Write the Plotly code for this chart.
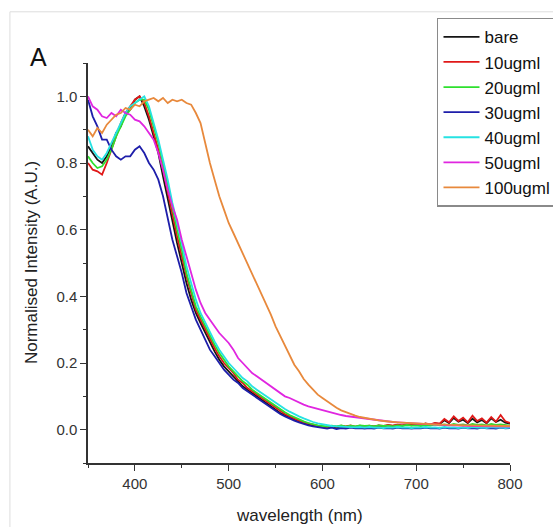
import plotly.graph_objects as go

wavelength = list(range(350, 801, 5))

bare = [0.85, 0.83, 0.81, 0.80, 0.82, 0.85, 0.89, 0.91, 0.95, 0.96,
        0.99, 1.00, 0.97, 0.93, 0.88, 0.83, 0.76, 0.69, 0.63, 0.56,
        0.50, 0.44, 0.39, 0.35, 0.32, 0.29, 0.26, 0.235, 0.21, 0.19,
        0.175, 0.16, 0.145, 0.13, 0.12, 0.11, 0.10, 0.09, 0.08, 0.07,
        0.06, 0.05, 0.043, 0.036, 0.03, 0.025, 0.02, 0.016, 0.013, 0.010,
        0.009, 0.007, 0.010, 0.006, 0.009, 0.008, 0.011, 0.007, 0.010, 0.008,
        0.011, 0.009, 0.012, 0.010, 0.013, 0.011, 0.014, 0.012, 0.015, 0.013,
        0.016, 0.014, 0.018, 0.015, 0.019, 0.017, 0.028, 0.020, 0.035, 0.024,
        0.030, 0.020, 0.033, 0.022, 0.029, 0.019, 0.034, 0.023, 0.030, 0.021,
        0.018]

ug10 = [0.80, 0.78, 0.775, 0.765, 0.80, 0.84, 0.88, 0.92, 0.95, 0.97,
        0.99, 1.00, 0.98, 0.94, 0.89, 0.84, 0.78, 0.71, 0.645, 0.58,
        0.52, 0.46, 0.41, 0.36, 0.33, 0.30, 0.27, 0.245, 0.22, 0.20,
        0.185, 0.17, 0.15, 0.14, 0.125, 0.115, 0.105, 0.095, 0.085, 0.075,
        0.065, 0.055, 0.047, 0.04, 0.033, 0.027, 0.022, 0.018, 0.015, 0.012,
        0.010, 0.008, 0.011, 0.009, 0.012, 0.010, 0.013, 0.009, 0.012, 0.010,
        0.012, 0.010, 0.013, 0.011, 0.014, 0.012, 0.015, 0.013, 0.016, 0.014,
        0.017, 0.015, 0.019, 0.016, 0.020, 0.018, 0.032, 0.022, 0.040, 0.026,
        0.036, 0.022, 0.042, 0.026, 0.034, 0.021, 0.038, 0.024, 0.044, 0.025,
        0.020]

ug20 = [0.82, 0.80, 0.785, 0.79, 0.81, 0.84, 0.88, 0.91, 0.94, 0.96,
        0.98, 0.99, 0.99, 0.96, 0.91, 0.86, 0.80, 0.73, 0.665, 0.60,
        0.54, 0.47, 0.42, 0.37, 0.34, 0.31, 0.28, 0.255, 0.23, 0.21,
        0.19, 0.175, 0.16, 0.145, 0.135, 0.12, 0.11, 0.10, 0.09, 0.08,
        0.07, 0.06, 0.052, 0.044, 0.037, 0.03, 0.025, 0.02, 0.016, 0.013,
        0.011, 0.009, 0.012, 0.010, 0.013, 0.009, 0.012, 0.010, 0.013, 0.011,
        0.012, 0.010, 0.013, 0.011, 0.012, 0.010, 0.013, 0.011, 0.014, 0.012,
        0.013, 0.011, 0.014, 0.012, 0.015, 0.013, 0.016, 0.013, 0.017, 0.014,
        0.016, 0.013, 0.017, 0.014, 0.016, 0.013, 0.017, 0.014, 0.016, 0.013,
        0.012]

ug30 = [0.99, 0.94, 0.91, 0.87, 0.87, 0.84, 0.82, 0.81, 0.82, 0.82,
        0.84, 0.85, 0.83, 0.80, 0.78, 0.75, 0.70, 0.63, 0.57, 0.52,
        0.47, 0.41, 0.37, 0.33, 0.30, 0.27, 0.24, 0.22, 0.20, 0.18,
        0.165, 0.15, 0.14, 0.125, 0.115, 0.105, 0.095, 0.085, 0.075, 0.065,
        0.055, 0.047, 0.04, 0.033, 0.027, 0.022, 0.017, 0.013, 0.01, 0.007,
        0.005, 0.003, 0.006, 0.002, 0.005, 0.003, 0.006, 0.004, 0.005, 0.003,
        0.005, 0.003, 0.006, 0.004, 0.005, 0.003, 0.006, 0.004, 0.005, 0.003,
        0.005, 0.004, 0.006, 0.004, 0.005, 0.003, 0.006, 0.004, 0.005, 0.003,
        0.006, 0.004, 0.005, 0.003, 0.006, 0.004, 0.005, 0.003, 0.006, 0.004,
        0.005]

ug40 = [0.88, 0.84, 0.82, 0.81, 0.83, 0.86, 0.89, 0.92, 0.95, 0.97,
        0.98, 0.99, 1.00, 0.97, 0.92, 0.87, 0.81, 0.75, 0.68, 0.62,
        0.56, 0.49, 0.44, 0.39, 0.35, 0.32, 0.29, 0.265, 0.24, 0.22,
        0.20, 0.185, 0.17, 0.155, 0.145, 0.13, 0.12, 0.11, 0.10, 0.09,
        0.08, 0.07, 0.062, 0.054, 0.046, 0.04, 0.034, 0.028, 0.023, 0.019,
        0.016, 0.013, 0.011, 0.010, 0.009, 0.008, 0.009, 0.007, 0.008, 0.006,
        0.008, 0.006, 0.007, 0.005, 0.007, 0.006, 0.008, 0.006, 0.007, 0.005,
        0.007, 0.006, 0.008, 0.006, 0.007, 0.005, 0.008, 0.006, 0.007, 0.005,
        0.007, 0.005, 0.008, 0.006, 0.007, 0.005, 0.008, 0.006, 0.007, 0.005,
        0.006]

ug50 = [1.00, 0.97, 0.96, 0.94, 0.935, 0.95, 0.94, 0.96, 0.95, 0.945,
        0.93, 0.925, 0.91, 0.89, 0.87, 0.83, 0.78, 0.72, 0.67, 0.63,
        0.57, 0.52, 0.47, 0.42, 0.38, 0.35, 0.33, 0.31, 0.29, 0.275,
        0.26, 0.24, 0.215, 0.20, 0.185, 0.17, 0.16, 0.15, 0.14, 0.13,
        0.12, 0.11, 0.10, 0.095, 0.088, 0.08, 0.075, 0.07, 0.066, 0.062,
        0.058, 0.054, 0.05, 0.047, 0.044, 0.041, 0.039, 0.037, 0.035, 0.033,
        0.031, 0.029, 0.027, 0.026, 0.024, 0.023, 0.022, 0.021, 0.020, 0.019,
        0.018, 0.017, 0.016, 0.016, 0.015, 0.014, 0.014, 0.013, 0.013, 0.012,
        0.012, 0.011, 0.011, 0.011, 0.010, 0.010, 0.010, 0.010, 0.009, 0.009,
        0.009]

ug100 = [0.90, 0.88, 0.905, 0.89, 0.915, 0.93, 0.945, 0.95, 0.965, 0.96,
         0.975, 0.97, 0.985, 0.99, 0.995, 0.985, 0.995, 0.98, 0.99, 0.985,
         0.99, 0.98, 0.975, 0.95, 0.92, 0.86, 0.80, 0.75, 0.70, 0.66,
         0.62, 0.59, 0.56, 0.53, 0.50, 0.47, 0.44, 0.41, 0.375, 0.345,
         0.31, 0.28, 0.25, 0.22, 0.195, 0.175, 0.152, 0.135, 0.12, 0.105,
         0.095, 0.085, 0.075, 0.066, 0.058, 0.052, 0.047, 0.042, 0.038, 0.035,
         0.032, 0.030, 0.028, 0.026, 0.024, 0.023, 0.022, 0.021, 0.020, 0.019,
         0.018, 0.017, 0.017, 0.016, 0.016, 0.015, 0.015, 0.014, 0.014, 0.014,
         0.013, 0.013, 0.013, 0.012, 0.012, 0.012, 0.012, 0.011, 0.011, 0.011,
         0.011]

names = ["bare", "10ugml", "20ugml", "30ugml", "40ugml", "50ugml", "100ugml"]
series = [bare, ug10, ug20, ug30, ug40, ug50, ug100]
colors = ["#151515", "#e01818", "#2ee02e", "#1e1eaa", "#26e2e2", "#e026e0", "#e8893c"]

fig = go.Figure()
for n, s, c in zip(names, series, colors):
    fig.add_trace(go.Scatter(x=wavelength, y=s, mode="lines", name=n,
                             line=dict(color=c, width=1.8)))

axis_common = dict(
    showline=True, linecolor="#333333", linewidth=1.5, mirror=False,
    ticks="outside", ticklen=6, tickwidth=1.3, tickcolor="#333333",
    showgrid=False, zeroline=False,
    tickfont=dict(family="Liberation Sans, Arial", size=15, color="#333333"),
)

fig.update_layout(
    width=553, height=527,
    margin=dict(l=88, r=43, t=63, b=64, autoexpand=False),
    paper_bgcolor="white", plot_bgcolor="white",
    xaxis=dict(range=[350, 800], dtick=100, tick0=400,
               minor=dict(ticks="outside", ticklen=3, dtick=50, tick0=350, tickcolor="#333333"),
               **axis_common),
    yaxis=dict(range=[-0.1, 1.1], dtick=0.2, tick0=0, tickformat=".1f",
               minor=dict(ticks="outside", ticklen=3, dtick=0.1, tick0=-0.1, tickcolor="#333333"),
               **axis_common),
    legend=dict(x=0.827, y=1.113, xanchor="left", yanchor="top",
                bgcolor="white", bordercolor="#8a8a8a", borderwidth=1.5,
                font=dict(family="Liberation Sans, Arial", size=17, color="#111111"),
                tracegroupgap=0, itemwidth=36),
    showlegend=True,
    shapes=[dict(type="rect", xref="paper", yref="paper",
                 x0=-0.185, x1=1.2, y0=-0.3, y1=1.128,
                 line=dict(color="#dddddd", width=1), layer="below")],
    annotations=[
        dict(text="A", xref="paper", yref="paper", x=-0.142, y=1.056,
             showarrow=False, font=dict(family="Liberation Sans, Arial", size=25, color="#111111")),
        dict(text="wavelength (nm)", xref="paper", yref="paper", x=0.5, y=-0.13,
             xanchor="center", yanchor="middle", showarrow=False,
             font=dict(family="Liberation Sans, Arial", size=17, color="#222222")),
        dict(text="Normalised Intensity (A.U.)", xref="paper", yref="paper", x=-0.135, y=0.5,
             xanchor="center", yanchor="middle", textangle=-90, showarrow=False,
             font=dict(family="Liberation Sans, Arial", size=17, color="#222222")),
    ],
)

fig.write_html("out.html")
